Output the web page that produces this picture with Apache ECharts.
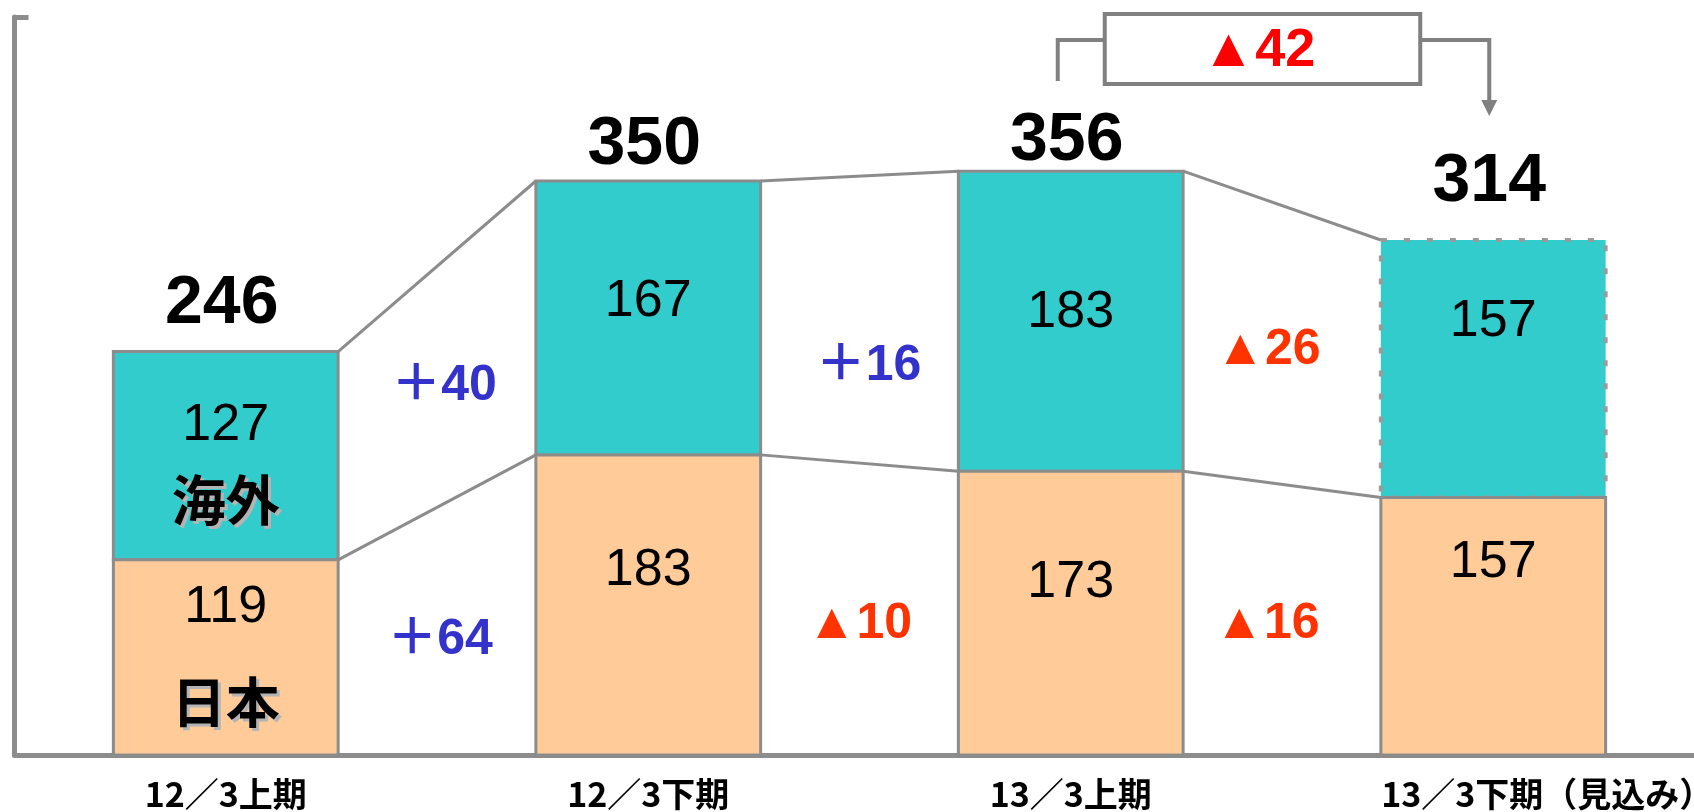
<!DOCTYPE html>
<html><head><meta charset="utf-8">
<script src="https://cdn.jsdelivr.net/npm/echarts@6/dist/echarts.min.js"></script>
<style>html,body{margin:0;padding:0;background:#fff}#c{width:1694px;height:812px}</style>
</head><body><div id="c"></div>
<script>
// ---- data ----
const categories = ['12／3上期', '12／3下期', '13／3上期', '13／3下期（見込み）'];
const domestic = [119, 183, 173, 157];   // 日本
const overseas = [127, 167, 183, 157];   // 海外
const totals = [246, 350, 356, 314];
const overseasChange = ['＋40', '＋16', '▲26'];
const domesticChange = ['＋64', '▲10', '▲16'];
const periodChange = '▲42';
const segmentNames = ['海外', '日本'];

// ---- style / layout (not data) ----
const GRAY = '#8c8c8c', TEAL = '#33CCCC', PEACH = '#FFCC99';
const BLUE = '#3333CC', ORANGE_RED = '#FF3300', RED = '#FF0000';
const NUM_FONT = '"Liberation Sans", Arial, "Noto Sans CJK JP", sans-serif';
const CJK_FONT = '"Noto Sans CJK JP", "Liberation Sans", sans-serif';
const BAR_RATIO = 0.532;
const forecastDashed = [false, false, false, true];
const totalLabelGap = [47, 36, 30, 58];
const overseasLabelDy = [74, 121, 141, 82];
const domesticLabelDy = [48, 116, 111, 65];
const overseasChangeY = [225, 237, 247];
const domesticChangeY = [70, 80, 80];
const overseasChangeDx = [7, 9, -14];
const domesticChangeDx = [3, 0, -15];

const chart = echarts.init(document.getElementById('c'), null, {renderer: 'canvas'});

function txt(x, y, text, size, weight, color, family) {
  return {type: 'text', z2: 10, style: {text: text, x: x, y: y, align: 'center', verticalAlign: 'middle',
    fontSize: size, fontWeight: weight, fontFamily: family || NUM_FONT, fill: color}};
}
function shadowTxt(x, y, text, size) {
  return [
    {type: 'text', z2: 9, style: {text: text, x: x + 3, y: y + 3, align: 'center', verticalAlign: 'middle',
      fontSize: size, fontWeight: 'bold', fontFamily: CJK_FONT, fill: '#b4b4b4'}},
    txt(x, y, text, size, 'bold', '#000', CJK_FONT)
  ];
}

const barData = categories.map((c, i) => [i, domestic[i], overseas[i], totals[i]]);
const linkData = [0, 1, 2].map(i => [i, totals[i], totals[i + 1], domestic[i], domestic[i + 1]]);

const option = {
  backgroundColor: '#fff',
  animation: false,
  grid: {left: 14.5, width: 1690, top: 17, bottom: 57, containLabel: false, outerBoundsMode: 'none'},
  xAxis: {
    type: 'category', data: categories,
    axisLine: {lineStyle: {color: GRAY, width: 5}},
    axisTick: {show: false},
    axisLabel: {
      interval: 0, margin: 22, color: '#000', fontSize: 34, fontWeight: 'bold', fontFamily: CJK_FONT,
      formatter: (v, idx) => idx === 3 ? '{f|' + v + '}' : v,
      rich: {f: {padding: [0, 0, 0, 108], fontSize: 34, fontWeight: 'bold', fontFamily: CJK_FONT, color: '#000'}}
    }
  },
  yAxis: {
    type: 'value', min: 0, max: 450, interval: 450,
    axisLine: {show: true, lineStyle: {color: GRAY, width: 5}},
    axisTick: {show: true, inside: true, length: 14, lineStyle: {color: GRAY, width: 5}},
    axisLabel: {show: false},
    splitLine: {show: false}
  },
  series: [
    {
      type: 'custom', z: 2,
      data: linkData,
      renderItem: function (params, api) {
        const i = api.value(0);
        const bw = api.size([1, 0])[0] * BAR_RATIO;
        const a1 = api.coord([i, api.value(1)]), b1 = api.coord([i + 1, api.value(2)]);
        const a2 = api.coord([i, api.value(3)]), b2 = api.coord([i + 1, api.value(4)]);
        const midX = (a1[0] + b1[0]) / 2;
        const idx = params.dataIndex;
        const oc = overseasChange[idx], dc = domesticChange[idx];
        return {type: 'group', children: [
          {type: 'line', shape: {x1: a1[0] + bw / 2, y1: a1[1], x2: b1[0] - bw / 2, y2: b1[1]},
            style: {stroke: GRAY, lineWidth: 3}},
          {type: 'line', shape: {x1: a2[0] + bw / 2, y1: a2[1], x2: b2[0] - bw / 2, y2: b2[1]},
            style: {stroke: GRAY, lineWidth: 3}},
          txt(midX + overseasChangeDx[idx], api.coord([i, overseasChangeY[idx]])[1], oc, 50, 'bold', oc[0] === '▲' ? ORANGE_RED : BLUE),
          txt(midX + domesticChangeDx[idx], api.coord([i, domesticChangeY[idx]])[1], dc, 50, 'bold', dc[0] === '▲' ? ORANGE_RED : BLUE)
        ]};
      }
    },
    {
      type: 'custom', z: 3,
      data: barData,
      renderItem: function (params, api) {
        const i = api.value(0), d = api.value(1), o = api.value(2), t = api.value(3);
        const base = api.coord([i, 0]), mid = api.coord([i, d]), top = api.coord([i, d + o]);
        const bw = api.size([1, 0])[0] * BAR_RATIO;
        const x0 = base[0] - bw / 2, cx = base[0];
        const dashed = forecastDashed[i];
        const ch = [
          {type: 'rect', shape: {x: x0, y: top[1], width: bw, height: mid[1] - top[1]},
            style: {fill: TEAL, stroke: dashed ? '#9a9a9a' : GRAY, lineWidth: dashed ? 4 : 3, lineDash: dashed ? [6, 17] : null}},
          {type: 'rect', shape: {x: x0, y: mid[1], width: bw, height: base[1] - mid[1]},
            style: {fill: PEACH, stroke: GRAY, lineWidth: 3}},
          txt(cx, top[1] + overseasLabelDy[i], String(o), 52, 'normal', '#000'),
          txt(cx, mid[1] + domesticLabelDy[i], String(d), 52, 'normal', '#000'),
          txt(cx - 4, top[1] - totalLabelGap[i], String(t), 68, 'bold', '#000')
        ];
        if (i === 0) {
          shadowTxt(cx, top[1] + 149, segmentNames[0], 54).forEach(e => ch.push(e));
          shadowTxt(cx, mid[1] + 143, segmentNames[1], 54).forEach(e => ch.push(e));
        }
        return {type: 'group', children: ch};
      }
    },
    {
      type: 'custom', z: 4,
      data: [[2, 3]],
      renderItem: function (params, api) {
        const p2 = api.coord([api.value(0), 0]), p3 = api.coord([api.value(1), 0]);
        const lx = p2[0] - 13, rx = p3[0] - 4;
        const bx0 = p2[0] + 34, bx1 = p3[0] - 73;
        const by0 = 14, by1 = 84, bracketY = 40;
        const st = {stroke: '#808080', lineWidth: 4, fill: null};
        return {type: 'group', children: [
          {type: 'polyline', shape: {points: [[lx, 81], [lx, bracketY], [bx0, bracketY]]}, style: st},
          {type: 'polyline', shape: {points: [[bx1, bracketY], [rx, bracketY], [rx, 104]]}, style: st},
          {type: 'polygon', shape: {points: [[rx - 8, 100], [rx + 8, 100], [rx, 116]]}, style: {fill: '#808080'}},
          {type: 'rect', shape: {x: bx0, y: by0, width: bx1 - bx0, height: by1 - by0}, style: {stroke: '#808080', lineWidth: 4, fill: '#fff'}},
          txt((bx0 + bx1) / 2 - 4, (by0 + by1) / 2 + 2, periodChange, 54, 'bold', RED)
        ]};
      }
    }
  ]
};
chart.setOption(option);
</script></body></html>
